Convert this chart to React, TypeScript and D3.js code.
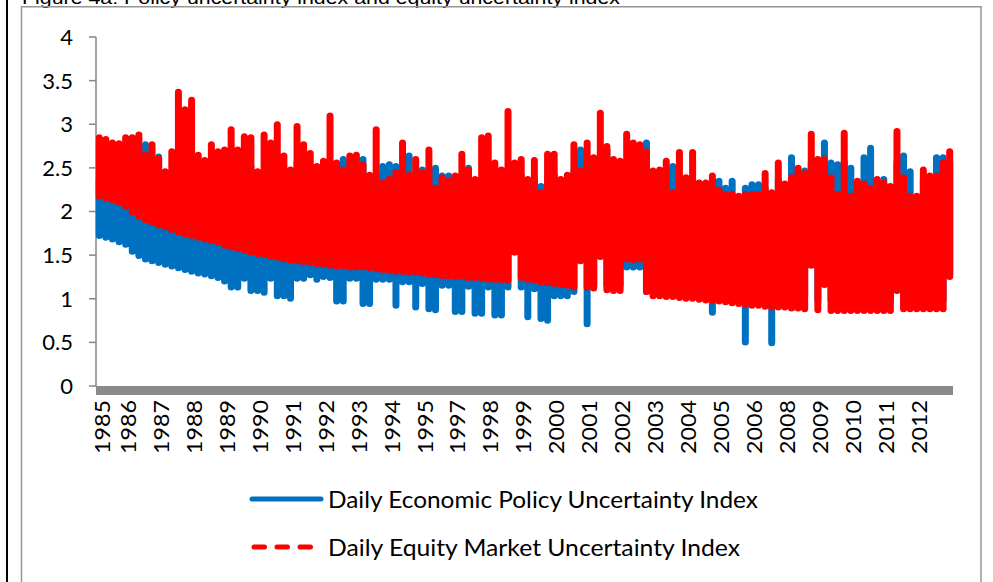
import React from "react";
import * as d3 from "d3";

const yearLabels = ["1985","1986","1987","1988","1989","1990","1991","1992","1993","1994","1995","1997","1998","1999","2000","2001","2002","2003","2004","2005","2006","2008","2009","2010","2011","2012"];
const yTicks = [0, 0.5, 1, 1.5, 2, 2.5, 3, 3.5, 4];
const seriesNames = ["Daily Economic Policy Uncertainty Index", "Daily Equity Market Uncertainty Index"];

// Each sample covers one fifth of a label interval; high / low of the daily values in that slice.
const equityHigh = [
  2.88, 2.86, 2.82, 2.81, 2.88, 2.88, 2.91, 2.68, 2.80, 2.64,
  2.49, 2.72, 3.40, 3.20, 3.31, 2.68, 2.62, 2.80, 2.72, 2.74,
  2.97, 2.74, 2.89, 2.88, 2.49, 2.91, 2.82, 3.03, 2.67, 2.51,
  3.01, 2.80, 2.70, 2.55, 2.61, 3.13, 2.59, 2.51, 2.67, 2.68,
  2.57, 2.45, 2.97, 2.36, 2.40, 2.48, 2.82, 2.45, 2.63, 2.48,
  2.74, 2.30, 2.42, 2.38, 2.44, 2.69, 2.51, 2.40, 2.88, 2.90,
  2.59, 2.51, 3.18, 2.59, 2.63, 2.40, 2.62, 2.25, 2.69, 2.69,
  2.40, 2.45, 2.80, 2.50, 2.82, 2.65, 3.16, 2.78, 2.63, 2.61,
  2.92, 2.82, 2.80, 2.72, 2.50, 2.51, 2.61, 2.25, 2.71, 2.42,
  2.71, 2.36, 2.36, 2.44, 2.28, 2.23, 2.23, 2.21, 2.23, 2.23,
  2.23, 2.47, 2.25, 2.59, 2.35, 2.42, 2.53, 2.47, 2.92, 2.63,
  2.63, 2.42, 2.23, 2.93, 2.21, 2.38, 2.35, 2.30, 2.40, 2.36,
  2.32, 2.95, 2.42, 2.21, 2.21, 2.51, 2.44, 2.44, 2.59, 2.72,
];
const equityLow = [
  2.14, 2.12, 2.10, 2.07, 2.03, 1.96, 1.91, 1.87, 1.84, 1.81,
  1.79, 1.76, 1.73, 1.71, 1.69, 1.67, 1.65, 1.63, 1.61, 1.58,
  1.56, 1.54, 1.52, 1.50, 1.48, 1.47, 1.45, 1.44, 1.42, 1.41,
  1.40, 1.39, 1.38, 1.37, 1.36, 1.35, 1.34, 1.34, 1.33, 1.33,
  1.33, 1.32, 1.31, 1.30, 1.29, 1.28, 1.28, 1.27, 1.27, 1.26,
  1.25, 1.24, 1.23, 1.23, 1.22, 1.22, 1.21, 1.21, 1.20, 1.19,
  1.19, 1.18, 1.18, 1.50, 1.21, 1.19, 1.18, 1.16, 1.15, 1.14,
  1.13, 1.12, 1.10, 1.40, 1.10, 1.09, 1.45, 1.07, 1.06, 1.06,
  1.42, 1.41, 1.42, 1.05, 1.00, 1.00, 0.99, 0.99, 0.98, 0.97,
  0.97, 0.96, 0.95, 0.95, 0.94, 0.93, 0.92, 0.91, 0.90, 0.89,
  0.89, 0.88, 0.87, 0.87, 0.87, 0.86, 0.86, 0.85, 1.35, 0.84,
  1.13, 0.83, 0.83, 0.83, 0.83, 0.83, 0.83, 0.83, 0.83, 0.83,
  0.83, 1.06, 0.85, 0.85, 0.85, 0.85, 0.85, 0.85, 0.85, 1.22,
];
const policyHigh = [
  2.40, 2.65, 2.55, 2.50, 2.77, 2.60, 2.55, 2.80, 2.60, 2.66,
  2.40, 2.45, 2.50, 2.45, 2.45, 2.55, 2.50, 2.55, 2.40, 2.50,
  2.55, 2.50, 2.60, 2.55, 2.45, 2.50, 2.60, 2.55, 2.50, 2.45,
  2.60, 2.55, 2.50, 2.40, 2.55, 2.60, 2.50, 2.63, 2.60, 2.55,
  2.63, 2.40, 2.45, 2.55, 2.57, 2.55, 2.45, 2.67, 2.40, 2.51,
  2.45, 2.53, 2.44, 2.44, 2.40, 2.45, 2.53, 2.36, 2.40, 2.45,
  2.40, 2.45, 2.50, 2.40, 2.45, 2.35, 2.40, 2.32, 2.40, 2.45,
  2.30, 2.40, 2.50, 2.74, 2.50, 2.55, 2.60, 2.74, 2.51, 2.50,
  2.60, 2.55, 2.60, 2.82, 2.45, 2.40, 2.50, 2.55, 2.40, 2.35,
  2.40, 2.30, 2.30, 2.38, 2.38, 2.30, 2.38, 2.15, 2.30, 2.34,
  2.34, 2.30, 2.20, 2.40, 2.30, 2.65, 2.40, 2.50, 2.60, 2.55,
  2.82, 2.59, 2.57, 2.60, 2.53, 2.30, 2.65, 2.76, 2.30, 2.40,
  2.25, 2.60, 2.67, 2.49, 2.15, 2.40, 2.35, 2.65, 2.65, 2.60,
];
const policyLow = [
  1.69, 1.67, 1.65, 1.62, 1.59, 1.51, 1.46, 1.42, 1.40, 1.38,
  1.36, 1.34, 1.32, 1.30, 1.28, 1.26, 1.25, 1.23, 1.21, 1.17,
  1.10, 1.10, 1.20, 1.06, 1.06, 1.04, 1.20, 1.00, 1.00, 0.97,
  1.20, 1.20, 1.24, 1.19, 1.22, 1.21, 0.94, 0.94, 1.20, 1.20,
  0.91, 0.91, 1.19, 1.19, 1.19, 0.89, 1.16, 1.16, 0.87, 1.14,
  0.85, 0.84, 1.12, 1.12, 0.82, 0.82, 1.11, 0.80, 0.80, 1.10,
  0.78, 0.78, 1.10, 1.55, 1.10, 0.76, 1.08, 0.74, 0.72, 1.00,
  1.00, 1.00, 1.05, 1.45, 0.68, 1.12, 1.50, 1.12, 1.12, 1.12,
  1.33, 1.33, 1.33, 1.05, 1.05, 1.05, 1.05, 1.05, 1.05, 1.05,
  1.05, 1.05, 1.00, 0.81, 1.00, 1.00, 1.00, 1.00, 0.47, 1.00,
  1.00, 1.00, 0.46, 1.00, 1.00, 1.00, 1.00, 1.00, 1.40, 0.95,
  1.15, 0.95, 0.95, 0.95, 0.95, 0.95, 0.95, 0.95, 0.95, 0.95,
  0.95, 1.10, 0.95, 0.95, 0.95, 0.95, 0.95, 0.95, 0.95, 1.25,
];

const W = 993;
const H = 582;
const plot = { left: 96, right: 953, top: 37, bottom: 386 };
const SAMPLES_PER_LABEL = 5;
const STROKE = 7;
const FONT = "Lato, 'Open Sans', sans-serif";

const x = d3.scaleLinear().domain([0, yearLabels.length]).range([plot.left, plot.right]);
const y = d3.scaleLinear().domain([0, 4]).range([plot.bottom, plot.top]);

// one vertical stroke per slice, from its low to its high
function strokes(high: number[], low: number[]): string {
  const inset = STROKE / 2 - 0.5;
  const p = d3.path();
  high.forEach((h, k) => {
    const px = x((k + 0.5) / SAMPLES_PER_LABEL);
    let top = y(h) + inset;
    let bot = y(low[k]) - inset;
    if (top > bot) { const m = (top + bot) / 2; top = m; bot = m; }
    p.moveTo(px, bot);
    p.lineTo(px, top);
  });
  return p.toString();
}

export default function App() {
  const bluePath = strokes(policyHigh, policyLow);
  const redPath = strokes(equityHigh, equityLow);
  return (
    <div style={{ position: "absolute", left: 0, top: 0 }}>
      <svg width={W} height={H} style={{ display: "block", background: "#fff" }}>
        <line x1={7} y1={0} x2={7} y2={H} stroke="#000" strokeWidth={2} />
        <text x={22} y={4} fontFamily="'Liberation Sans', Arial, sans-serif" fontSize={18} fill="#000"
          textLength={598} lengthAdjust="spacingAndGlyphs">
          Figure 4a: Policy uncertainty index and equity uncertainty index
        </text>
        <rect x={21.5} y={6.75} width={959.5} height={620} fill="none" stroke="#969696" strokeWidth={1.5} />

        {/* y axis */}
        <line x1={plot.left} y1={plot.top} x2={plot.left} y2={plot.bottom} stroke="#868686" strokeWidth={1.5} />
        {yTicks.map((t) => (
          <g key={t}>
            <line x1={plot.left - 7} x2={plot.left} y1={y(t)} y2={y(t)} stroke="#868686" strokeWidth={1.5} />
            <text x={73} y={y(t)} dy="0.36em" textAnchor="end" fontFamily={FONT} fontSize={22} fill="#000">
              {String(t)}
            </text>
          </g>
        ))}

        {/* series */}
        <path d={bluePath} fill="none" stroke="#0070C0" strokeWidth={STROKE} strokeLinecap="round" />
        <path d={redPath} fill="none" stroke="#FF0000" strokeWidth={STROKE} strokeLinecap="round" />

        {/* x axis band */}
        <rect x={plot.left} y={plot.bottom} width={plot.right - plot.left} height={9} fill="#8a8a8a" />
        {yearLabels.map((lab, i) => {
          const cx = Math.max(x(i) - 1, 102);
          return (
            <text key={lab} transform={`translate(${cx},400) rotate(-90)`} dy="0.36em" textAnchor="end"
              fontFamily={FONT} fontSize={22} fill="#000" textLength={54} lengthAdjust="spacingAndGlyphs">
              {lab}
            </text>
          );
        })}

        {/* legend */}
        <line x1={252} x2={321} y1={499} y2={499} stroke="#0070C0" strokeWidth={5} strokeLinecap="round" />
        <text x={328} y={499} dy="0.36em" fontFamily={FONT} fontSize={24} fill="#000" textLength={430} lengthAdjust="spacingAndGlyphs">
          {seriesNames[0]}
        </text>
        <line x1={254} x2={313} y1={547} y2={547} stroke="#FF0000" strokeWidth={5} strokeLinecap="round" strokeDasharray="10.5 12.5" />
        <text x={328} y={547} dy="0.36em" fontFamily={FONT} fontSize={24} fill="#000" textLength={412} lengthAdjust="spacingAndGlyphs">
          {seriesNames[1]}
        </text>
      </svg>
    </div>
  );
}
